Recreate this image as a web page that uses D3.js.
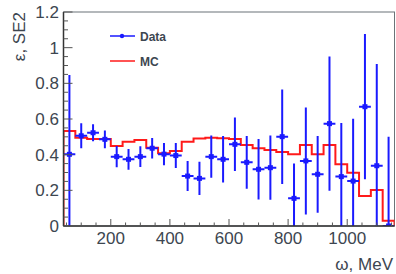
<!DOCTYPE html>
<html>
<head>
<meta charset="utf-8">
<script src="https://cdn.jsdelivr.net/npm/d3@7"></script>
<style>
  body { margin: 0; background: #fff; }
  svg { display: block; font-family: "Liberation Sans", Arial, sans-serif; }
</style>
</head>
<body>
<svg id="chart" width="396" height="274"></svg>
<script>
// bins: 40 MeV wide, 40..1160
const binEdges = d3.range(40, 1161, 40);
const binCenters = d3.range(60, 1141, 40);

// data points (efficiency) with symmetric errors
const dataValues = [0.402, 0.506, 0.523, 0.486, 0.389, 0.374, 0.389, 0.436, 0.403, 0.395,
                    0.280, 0.267, 0.389, 0.374, 0.458, 0.357, 0.318, 0.327, 0.501, 0.155,
                    0.365, 0.290, 0.574, 0.277, 0.252, 0.669, 0.338, 0.0];
const dataErrors = [0.445, 0.07, 0.048, 0.05, 0.06, 0.058, 0.058, 0.057, 0.063, 0.07,
                    0.084, 0.093, 0.118, 0.13, 0.15, 0.148, 0.17, 0.18, 0.265, 0.195,
                    0.3, 0.215, 0.377, 0.3, 0.35, 0.407, 0.57, 0.5];

// MC histogram contents
const mcValues = [0.533, 0.495, 0.488, 0.488, 0.449, 0.473, 0.482, 0.439, 0.408, 0.421,
                  0.473, 0.490, 0.495, 0.492, 0.488, 0.454, 0.436, 0.426, 0.415, 0.402,
                  0.454, 0.402, 0.454, 0.346, 0.299, 0.168, 0.202, 0.03];

const xTicks = [200, 400, 600, 800, 1000];
const yTicks = [0, 0.2, 0.4, 0.6, 0.8, 1, 1.2];
const yTickLabels = ["0", "0.2", "0.4", "0.6", "0.8", "1", "1.2"];

const svg = d3.select("#chart");
const padL = 63.5, padR = 394.5, padT = 12, padB = 226;

const x = d3.scaleLinear().domain([40, 1160]).range([padL, padR]);
const y = d3.scaleLinear().domain([0, 1.2]).range([padB, padT]);

const axisColor = "#3d4650";
const blue = "#1a1aff";
const red = "#ff1a1a";

// --- frame ---
svg.append("rect")
    .attr("x", padL).attr("y", padT)
    .attr("width", padR - padL).attr("height", padB - padT)
    .attr("fill", "none").attr("stroke", "#6b7378").attr("stroke-width", 1);

// --- clip for data ---
svg.append("clipPath").attr("id", "plot-clip")
  .append("rect")
    .attr("x", padL).attr("y", padT)
    .attr("width", padR - padL).attr("height", padB - padT);

const plot = svg.append("g").attr("clip-path", "url(#plot-clip)");

// --- MC histogram (step) ---
const mcPoints = [[binEdges[0], 0]];
mcValues.forEach((v, i) => {
    mcPoints.push([binEdges[i], v]);
    mcPoints.push([binEdges[i + 1], v]);
});
mcPoints.push([binEdges[binEdges.length - 1], 0]);

plot.append("path")
    .datum(mcPoints)
    .attr("fill", "none")
    .attr("stroke", red)
    .attr("stroke-width", 2)
    .attr("d", d3.line().x(d => x(d[0])).y(d => y(d[1])));

// --- data points with error bars ---
const pts = binCenters.map((c, i) => ({ c, v: dataValues[i], e: dataErrors[i] }));
const pg = plot.append("g").selectAll("g").data(pts).join("g");

pg.append("line")
    .attr("x1", d => x(d.c)).attr("x2", d => x(d.c))
    .attr("y1", d => y(d.v + d.e)).attr("y2", d => y(Math.max(d.v - d.e, -0.05)))
    .attr("stroke", blue).attr("stroke-width", 2);

pg.append("line")
    .attr("x1", d => x(d.c - 20)).attr("x2", d => x(d.c + 20))
    .attr("y1", d => y(d.v)).attr("y2", d => y(d.v))
    .attr("stroke", blue).attr("stroke-width", 2);

pg.append("rect")
    .attr("x", d => x(d.c) - 2.5).attr("y", d => y(d.v) - 2.5)
    .attr("width", 5).attr("height", 5)
    .attr("fill", blue);

// --- axes ---
const xAxis = svg.append("g");
xAxis.append("line")
    .attr("x1", padL).attr("x2", padR).attr("y1", padB).attr("y2", padB)
    .attr("stroke", "#333").attr("stroke-width", 1.5);
xAxis.selectAll("line.minor")
    .data(d3.range(50, 1160, 50).filter(v => v > 40 && v % 200 !== 0))
    .join("line").attr("class", "minor")
    .attr("x1", d => x(d)).attr("x2", d => x(d))
    .attr("y1", padB).attr("y2", padB - 3.5)
    .attr("stroke", "#555").attr("stroke-width", 1);
xAxis.selectAll("line.major")
    .data(xTicks)
    .join("line").attr("class", "major")
    .attr("x1", d => x(d)).attr("x2", d => x(d))
    .attr("y1", padB).attr("y2", padB - 7)
    .attr("stroke", "#555").attr("stroke-width", 1);
xAxis.selectAll("text")
    .data(xTicks)
    .join("text")
    .attr("x", d => x(d)).attr("y", 244)
    .attr("text-anchor", "middle")
    .attr("font-size", 17)
    .attr("fill", axisColor)
    .text(d => d);

const yAxis = svg.append("g");
yAxis.append("line")
    .attr("x1", padL).attr("x2", padL).attr("y1", padT).attr("y2", padB)
    .attr("stroke", "#333").attr("stroke-width", 1.5);
yAxis.selectAll("line.minor")
    .data(d3.range(0, 24).map(i => i * 0.05).filter((v, i) => i % 4 !== 0))
    .join("line").attr("class", "minor")
    .attr("x1", padL).attr("x2", padL + 4.5)
    .attr("y1", d => y(d)).attr("y2", d => y(d))
    .attr("stroke", "#555").attr("stroke-width", 1);
yAxis.selectAll("line.major")
    .data(yTicks)
    .join("line").attr("class", "major")
    .attr("x1", padL).attr("x2", padL + 9)
    .attr("y1", d => y(d)).attr("y2", d => y(d))
    .attr("stroke", "#555").attr("stroke-width", 1);
yAxis.selectAll("text")
    .data(yTicks)
    .join("text")
    .attr("x", 59).attr("y", d => y(d) + 6)
    .attr("text-anchor", "end")
    .attr("font-size", 17)
    .attr("fill", axisColor)
    .text((d, i) => yTickLabels[i]);

// --- axis titles ---
svg.append("text")
    .attr("x", 393).attr("y", 270)
    .attr("text-anchor", "end")
    .attr("font-size", 17)
    .attr("fill", axisColor)
    .text("ω, MeV");

svg.append("text")
    .attr("transform", "translate(25,12) rotate(-90)")
    .attr("text-anchor", "end")
    .attr("font-size", 17)
    .attr("fill", axisColor)
    .text("ε, SE2");

// --- legend ---
const legend = svg.append("g");
legend.append("line")
    .attr("x1", 110).attr("x2", 135).attr("y1", 36).attr("y2", 36)
    .attr("stroke", blue).attr("stroke-width", 1.5);
legend.append("circle")
    .attr("cx", 122).attr("cy", 36).attr("r", 2.2).attr("fill", blue);
legend.append("text")
    .attr("x", 140).attr("y", 40.5)
    .attr("font-size", 12).attr("font-weight", "bold")
    .attr("fill", axisColor).text("Data");
legend.append("line")
    .attr("x1", 110).attr("x2", 135).attr("y1", 61).attr("y2", 61)
    .attr("stroke", red).attr("stroke-width", 1.5);
legend.append("text")
    .attr("x", 140).attr("y", 65.5)
    .attr("font-size", 12).attr("font-weight", "bold")
    .attr("fill", axisColor).text("MC");
</script>
</body>
</html>
